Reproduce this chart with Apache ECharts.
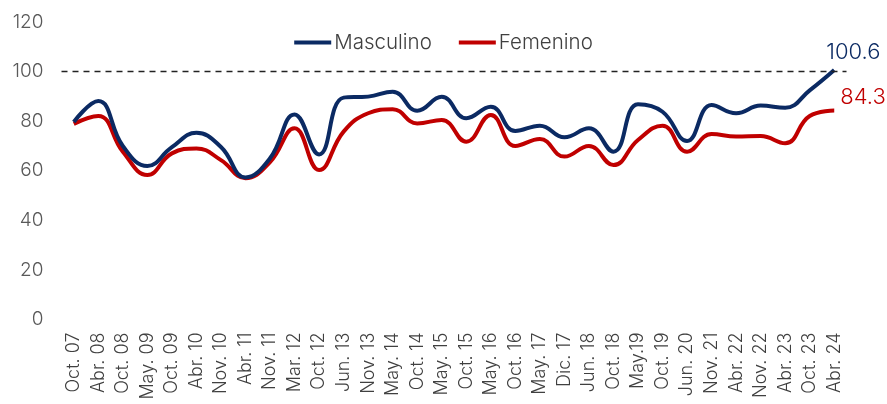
<!DOCTYPE html>
<html>
<head>
<meta charset="utf-8">
<script src="https://cdn.jsdelivr.net/npm/echarts@6/dist/echarts.min.js"></script>
<style>html,body{margin:0;padding:0;background:#fff;}#c{width:887px;height:404px;}</style>
</head>
<body>
<div id="c"></div>
<script>
const categories = ["Oct. 07","Abr. 08","Oct. 08","May. 09","Oct. 09","Abr. 10","Nov. 10","Abr. 11","Nov. 11","Mar. 12","Oct. 12","Jun. 13","Nov. 13","May. 14","Oct. 14","May. 15","Oct. 15","May. 16","Oct. 16","May. 17","Dic. 17","Jun. 18","Oct. 18","May.19","Oct. 19","Jun. 20","Nov. 21","Abr. 22","Nov. 22","Abr. 23","Oct. 23","Abr. 24"];
const masculino = [79.7,88.1,70.0,61.9,69.5,75.3,69.6,57.3,65.0,82.7,66.6,89.5,89.9,91.9,84.2,89.8,81.2,85.8,76.0,78.2,73.5,77.1,67.7,86.8,83.8,72.0,86.5,83.2,86.3,85.4,92.4,100.6];
const femenino = [78.9,82.1,67.7,58.3,67.0,69.0,64.3,57.0,63.5,77.1,60.3,75.8,83.2,84.8,79.1,80.5,71.7,82.5,70.0,72.8,65.7,70.0,62.3,72.4,78.2,67.7,74.8,73.8,74.0,71.1,82.1,84.3];
const yTicks = {min:0, max:120, interval:20};
const refValue = 100;

const font = "Inter";
const fw = 300;
const chart = echarts.init(document.getElementById('c'));
chart.setOption({
  animation:false,
  textStyle:{fontFamily:font, fontWeight:fw},
  legend:{
    top:27, left:'center', itemWidth:37, itemHeight:4, itemGap:27,
    textStyle:{fontSize:20.5, color:'#404040', fontFamily:font, fontWeight:fw, padding:[0,0,0,-2]},
    icon:'rect',
    data:['Masculino','Femenino']
  },
  grid:{left:61.5, right:40.5, top:22, bottom:84.5, containLabel:false},
  xAxis:{
    type:'category', data:categories, boundaryGap:true,
    axisLine:{show:false}, axisTick:{show:false},
    axisLabel:{rotate:90, interval:0, margin:13, fontSize:18, color:'#404040', fontFamily:font, fontWeight:fw}
  },
  yAxis:{
    type:'value', min:yTicks.min, max:yTicks.max, interval:yTicks.interval,
    splitLine:{show:false}, axisLine:{show:false}, axisTick:{show:false},
    axisLabel:{margin:18, fontSize:19, color:'#595959', fontFamily:font, fontWeight:fw}
  },
  series:[
    {name:'Masculino', type:'line', smooth:0.45, symbol:'none', data:masculino,
     lineStyle:{width:4, color:'#0b2a63'}, itemStyle:{color:'#0b2a63'}, z:3,
     endLabel:{show:true, distance:0, offset:[-8,-18], color:'#0b2a63', fontSize:22, fontFamily:font, fontWeight:fw, formatter:(p)=>Number(p.value).toFixed(1)},
     markLine:{silent:true, symbol:'none', label:{show:false}, lineStyle:{type:[6,5], color:'#222', width:1.3}, data:[{yAxis:refValue}]}},
    {name:'Femenino', type:'line', smooth:0.45, symbol:'none', data:femenino,
     lineStyle:{width:4, color:'#c00000'}, itemStyle:{color:'#c00000'}, z:2,
     endLabel:{show:true, distance:0, offset:[6,-13], color:'#c00000', fontSize:22, fontFamily:font, fontWeight:fw, formatter:(p)=>Number(p.value).toFixed(1)}}
  ]
});
</script>
</body>
</html>
